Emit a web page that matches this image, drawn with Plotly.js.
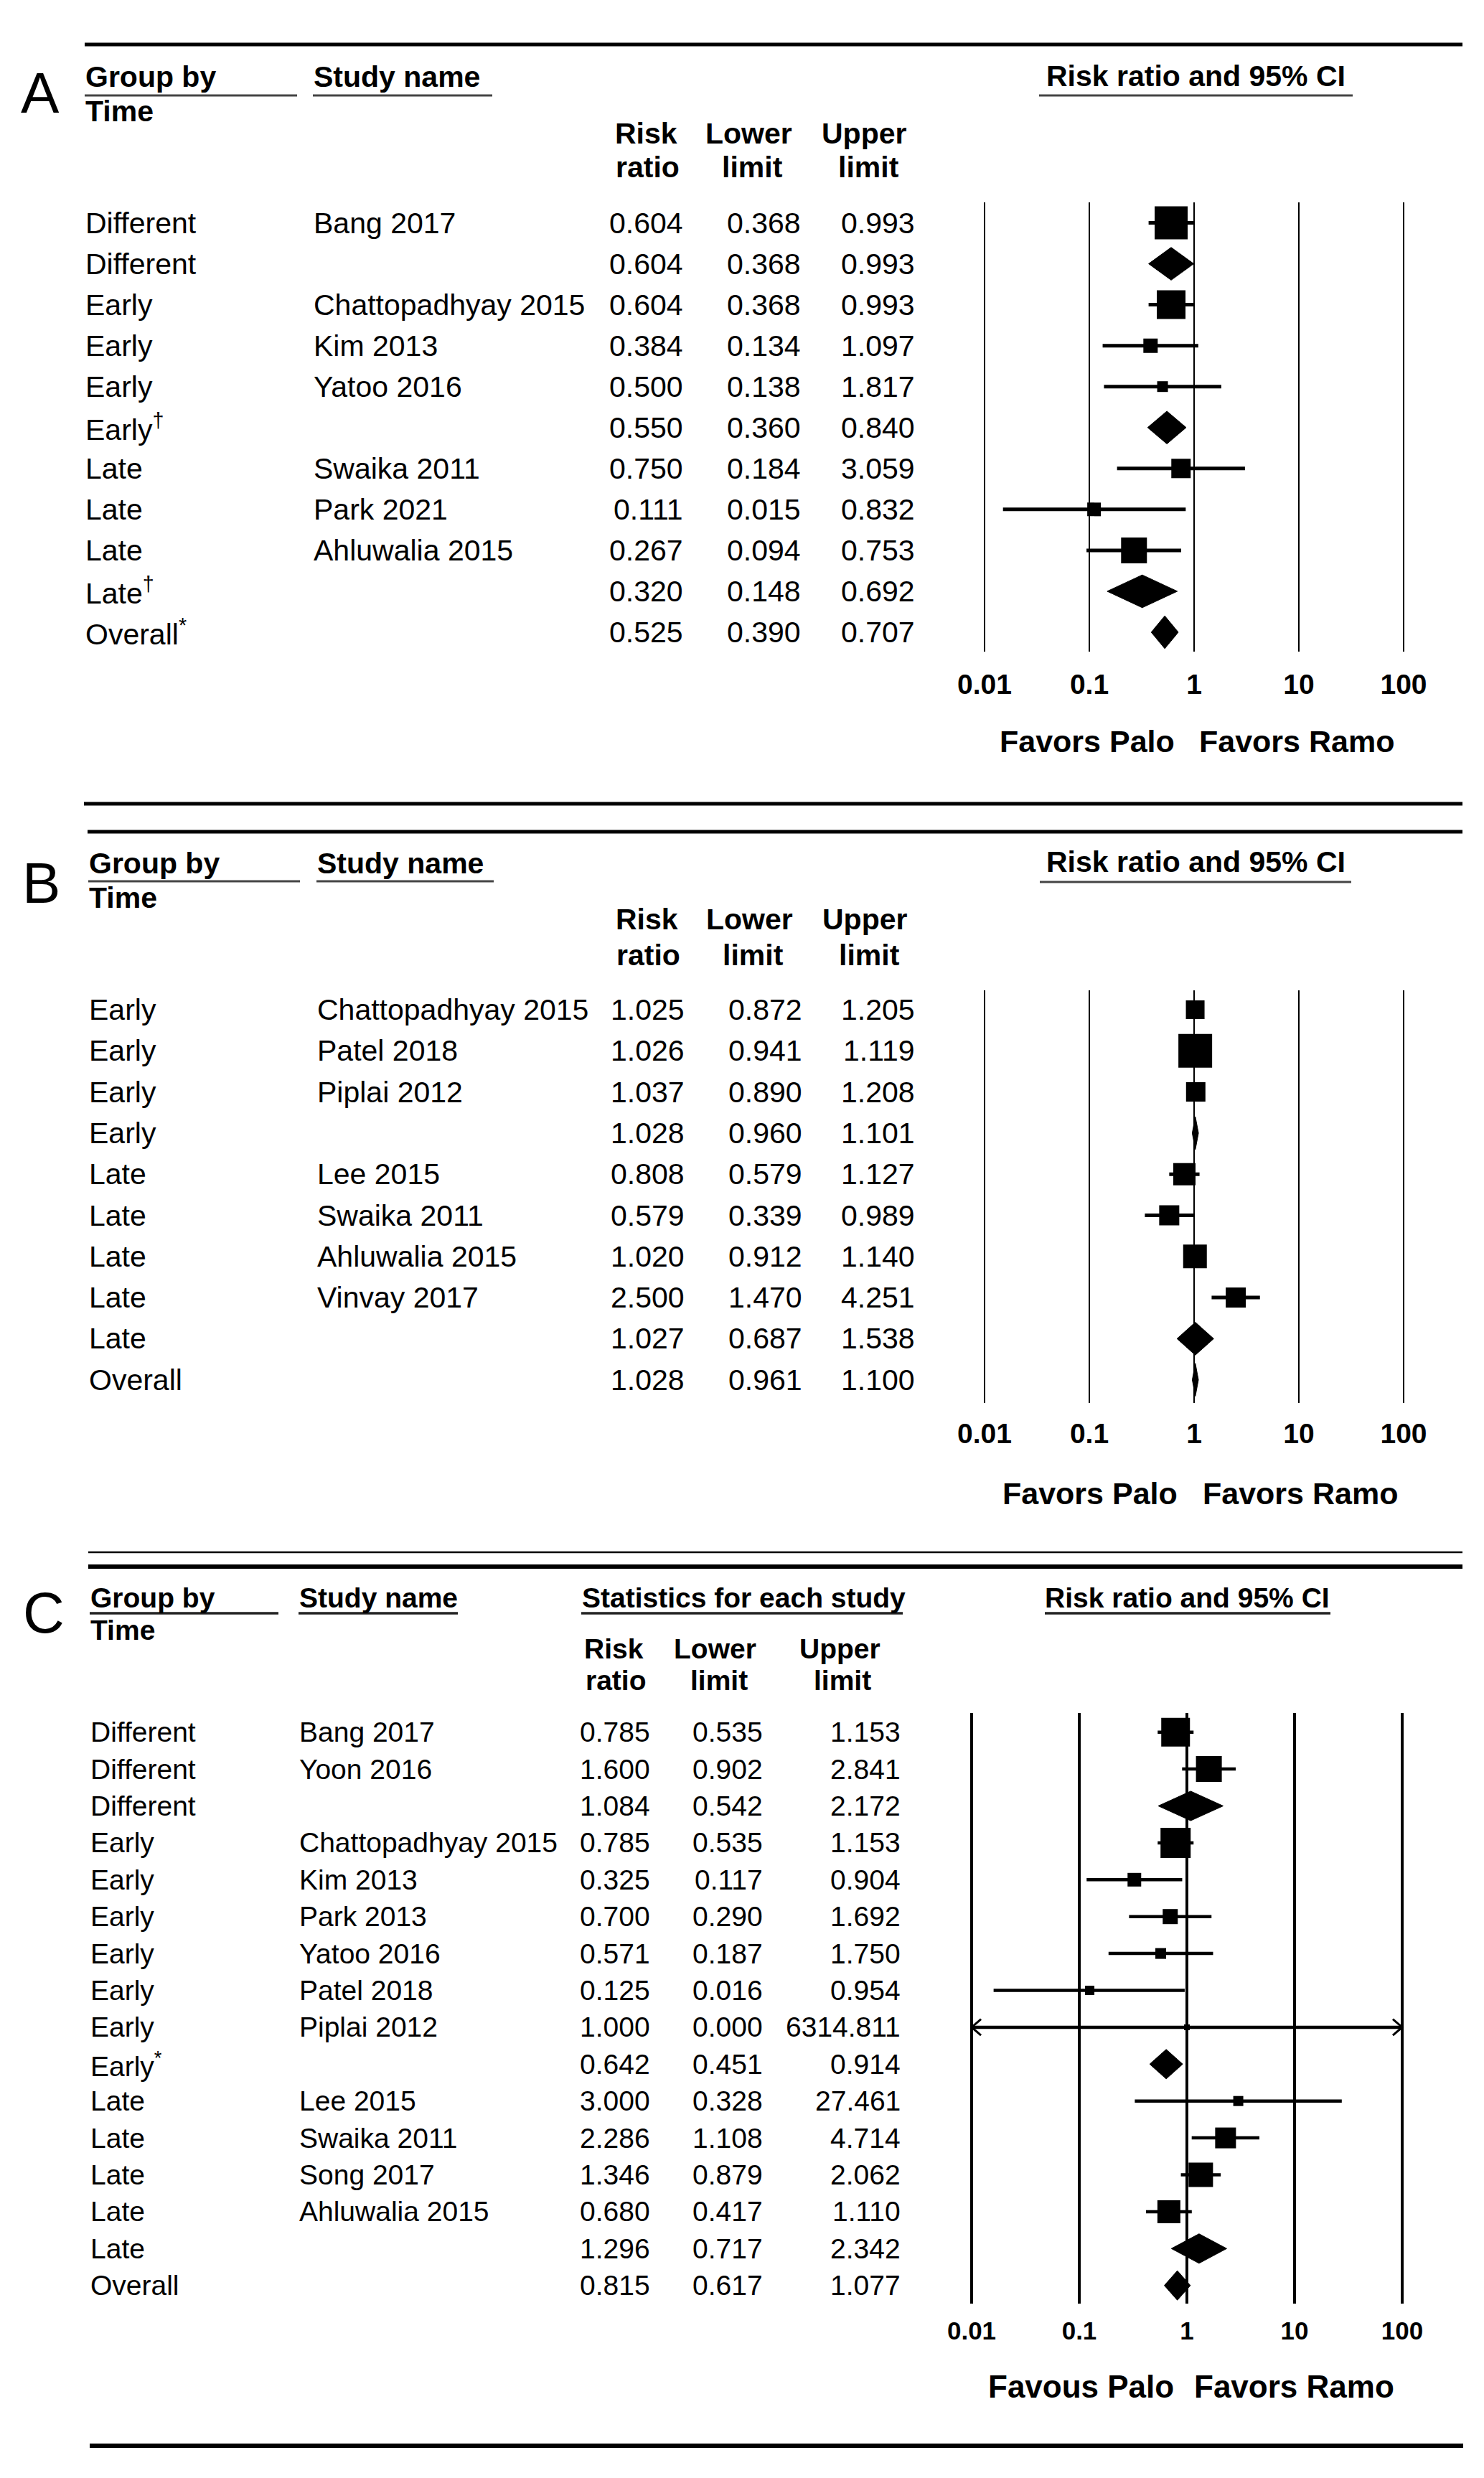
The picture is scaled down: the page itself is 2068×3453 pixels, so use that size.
<!DOCTYPE html>
<html><head><meta charset="utf-8">
<script src="https://cdn.plot.ly/plotly-3.0.1.min.js"></script>
<style>html,body{margin:0;padding:0;background:#fff;}#chart{width:2068px;height:3453px;}</style>
</head><body><div id="chart"></div>
<script>
// ---------------- Panel A data ----------------
const groupA = ['Different','Different','Early','Early','Early','Early<sup>†</sup>','Late','Late','Late','Late<sup>†</sup>','Overall<sup>*</sup>'];
const studyA = ['Bang 2017','','Chattopadhyay 2015','Kim 2013','Yatoo 2016','','Swaika 2011','Park 2021','Ahluwalia 2015','',''];
const rrA = [0.604,0.604,0.604,0.384,0.500,0.550,0.750,0.111,0.267,0.320,0.525];
const loA = [0.368,0.368,0.368,0.134,0.138,0.360,0.184,0.015,0.094,0.148,0.390];
const hiA = [0.993,0.993,0.993,1.097,1.817,0.840,3.059,0.832,0.753,0.692,0.707];
const kindA = ['study','summary','study','study','study','summary','study','study','study','summary','summary'];
const weightA = [46,null,40,20,15,null,27,19,36,null,null];

// ---------------- Panel B data ----------------
const groupB = ['Early','Early','Early','Early','Late','Late','Late','Late','Late','Overall'];
const studyB = ['Chattopadhyay 2015','Patel 2018','Piplai 2012','','Lee 2015','Swaika 2011','Ahluwalia 2015','Vinvay 2017','',''];
const rrB = [1.025,1.026,1.037,1.028,0.808,0.579,1.020,2.500,1.027,1.028];
const loB = [0.872,0.941,0.890,0.960,0.579,0.339,0.912,1.470,0.687,0.961];
const hiB = [1.205,1.119,1.208,1.101,1.127,0.989,1.140,4.251,1.538,1.100];
const kindB = ['study','study','study','summary','study','study','study','study','summary','summary'];
const weightB = [26,47,27,null,31,28,33,28,null,null];

// ---------------- Panel C data ----------------
const groupC = ['Different','Different','Different','Early','Early','Early','Early','Early','Early','Early<sup>*</sup>','Late','Late','Late','Late','Late','Overall'];
const studyC = ['Bang 2017','Yoon 2016','','Chattopadhyay 2015','Kim 2013','Park 2013','Yatoo 2016','Patel 2018','Piplai 2012','','Lee 2015','Swaika 2011','Song 2017','Ahluwalia 2015','',''];
const rrC = [0.785,1.600,1.084,0.785,0.325,0.700,0.571,0.125,1.000,0.642,3.000,2.286,1.346,0.680,1.296,0.815];
const loC = [0.535,0.902,0.542,0.535,0.117,0.290,0.187,0.016,0.000,0.451,0.328,1.108,0.879,0.417,0.717,0.617];
const hiC = [1.153,2.841,2.172,1.153,0.904,1.692,1.750,0.954,6314.811,0.914,27.461,4.714,2.062,1.110,2.342,1.077];
const kindC = ['study','study','summary','study','study','study','study','study','study','summary','study','study','study','study','summary','summary'];
const weightC = [40,36,null,42,19,21,15,13,8,null,14,29,34,32,null,null];

const tickVals = [0.01,0.1,1,10,100];
const tickText = ['0.01','0.1','1','10','100'];

// ---------------- layout helpers ----------------
const W = 2068, H = 3453;
const PX = p => p / W;
const PY = p => 1 - p / H;
const FONT = 'Liberation Sans, Arial, Helvetica, sans-serif';

const panels = [
  {letter:'A', group:groupA, study:studyA, rr:rrA, lo:loA, hi:hiA, kind:kindA, wt:weightA,
   xa:'x', ya:'y', top:282, bottom:908, row0:310.5, step:57.05, d0:1372, d4:1956,
   cGroup:118, cStudy:436, cRR:953, cLo:1117, cHi:1276, font:41, tickFont:39, grid:2.5, ticklen:11, whisk:5},
  {letter:'B', group:groupB, study:studyB, rr:rrB, lo:loB, hi:hiB, kind:kindB, wt:weightB,
   xa:'x2', ya:'y2', top:1380, bottom:1955, row0:1407, step:57.3, d0:1372, d4:1956,
   cGroup:123, cStudy:441, cRR:955, cLo:1119, cHi:1276, font:41, tickFont:39, grid:2.5, ticklen:8, whisk:5},
  {letter:'C', group:groupC, study:studyC, rr:rrC, lo:loC, hi:hiC, kind:kindC, wt:weightC,
   xa:'x3', ya:'y3', top:2387, bottom:3210, row0:2413.7, step:51.4, d0:1354, d4:1954,
   cGroup:125, cStudy:416, cRR:907, cLo:1064, cHi:1256, font:39, tickFont:35, grid:4, ticklen:7, whisk:4.5}
];

const traces = [];
const annotations = [];
const shapes = [];
const layout = {
  width: W, height: H, margin:{l:0,r:0,t:0,b:0},
  paper_bgcolor:'#fff', plot_bgcolor:'rgba(0,0,0,0)',
  showlegend:false, font:{family:FONT, color:'#000'},
  annotations, shapes
};

const PAD = 0.05;      // decades of padding beyond 0.01..100
const HALF = 0.4;      // diamond half height in rows
const XMIN = 0.01, XMAX = 100;

panels.forEach((p, pi) => {
  const dec = (p.d4 - p.d0) / 4;
  const xKey = pi === 0 ? 'xaxis' : 'xaxis' + (pi + 1);
  const yKey = pi === 0 ? 'yaxis' : 'yaxis' + (pi + 1);
  layout[xKey] = {
    type:'log', range:[-2 - PAD, 2 + PAD],
    domain:[PX(p.d0 - PAD * dec), PX(p.d4 + PAD * dec)],
    anchor:p.ya, tickmode:'array', tickvals:tickVals, ticktext:tickText,
    showgrid:true, gridcolor:'#000', gridwidth:p.grid, showline:false, zeroline:false,
    ticks:'outside', ticklen:p.ticklen, tickcolor:'rgba(0,0,0,0)',
    tickfont:{family:FONT, size:p.tickFont, color:'#000', weight:'bold'}, fixedrange:true
  };
  layout[yKey] = {
    domain:[PY(p.bottom), PY(p.top)],
    range:[(p.bottom - p.row0) / p.step, (p.top - p.row0) / p.step],
    anchor:p.xa, showgrid:false, zeroline:false, showticklabels:false, ticks:'', showline:false, fixedrange:true
  };

  // whiskers (clipped to axis) + arrowheads
  const wx = [], wy = [];
  const ax = [], ay = [];
  const aw = Math.pow(10, 0.087);
  p.rr.forEach((v, k) => {
    if (p.kind[k] !== 'study') return;
    const lo = Math.max(p.lo[k], XMIN), hi = Math.min(p.hi[k], XMAX);
    wx.push(lo, hi, null); wy.push(k, k, null);
    if (p.lo[k] < XMIN) { ax.push(XMIN * aw, XMIN, XMIN * aw, null); ay.push(k - 0.22, k, k + 0.22, null); }
    if (p.hi[k] > XMAX) { ax.push(XMAX / aw, XMAX, XMAX / aw, null); ay.push(k - 0.22, k, k + 0.22, null); }
  });
  traces.push({type:'scatter', mode:'lines', x:wx, y:wy, xaxis:p.xa, yaxis:p.ya,
    line:{color:'#000', width:p.whisk}, hoverinfo:'skip', connectgaps:false});
  if (ax.length) traces.push({type:'scatter', mode:'lines', x:ax, y:ay, xaxis:p.xa, yaxis:p.ya,
    line:{color:'#000', width:3}, hoverinfo:'skip', connectgaps:false});

  // study squares
  const sx = [], sy = [], ss = [];
  p.rr.forEach((v, k) => { if (p.kind[k] === 'study') { sx.push(v); sy.push(k); ss.push(p.wt[k]); } });
  traces.push({type:'scatter', mode:'markers', x:sx, y:sy, xaxis:p.xa, yaxis:p.ya,
    marker:{symbol:'square', size:ss, color:'#000', opacity:1, line:{width:0}}, hoverinfo:'skip'});

  // summary diamonds
  p.rr.forEach((v, k) => {
    if (p.kind[k] !== 'summary') return;
    traces.push({type:'scatter', mode:'lines', fill:'toself', fillcolor:'#000',
      x:[p.lo[k], v, p.hi[k], v, p.lo[k]], y:[k, k - HALF, k, k + HALF, k],
      xaxis:p.xa, yaxis:p.ya, line:{color:'#000', width:1}, hoverinfo:'skip'});
  });

  // table cells
  const cell = (txt, xpx, k, anchor) => annotations.push({
    text:txt, x:PX(xpx), y:k, xref:'paper', yref:p.ya, xanchor:anchor, yanchor:'middle',
    showarrow:false, font:{family:FONT, size:p.font, color:'#000'}, borderpad:0
  });
  p.rr.forEach((v, k) => {
    cell(p.group[k], p.cGroup, k, 'left');
    if (p.study[k]) cell(p.study[k], p.cStudy, k, 'left');
    cell(v.toFixed(3), p.cRR, k, 'right');
    cell(p.lo[k].toFixed(3), p.cLo, k, 'right');
    cell(p.hi[k].toFixed(3), p.cHi, k, 'right');
  });
});

// ---------------- headers, rules, labels ----------------
const label = (txt, xpx, ypx, anchor, size, bold) => annotations.push({
  text: bold ? '<b>' + txt + '</b>' : txt, x:PX(xpx), y:PY(ypx), xref:'paper', yref:'paper',
  xanchor:anchor, yanchor:'middle', showarrow:false, font:{family:FONT, size:size, color:'#000'}, borderpad:0
});
const hline = (x0, x1, ypx, w, c) => shapes.push({type:'line', xref:'paper', yref:'paper',
  x0:PX(x0), x1:PX(x1), y0:PY(ypx), y1:PY(ypx), line:{color:c || '#000', width:w}});

// rules
hline(118, 2038, 62, 5);
hline(117, 2038, 1120, 5);
hline(122, 2038, 1159, 5);
hline(123, 2038, 2163, 2.5);
hline(123, 2038, 2183, 6);
hline(125, 2039, 3408, 6);

// Panel A header
label('A', 56, 129, 'center', 80, false);
label('Group by', 118, 107, 'left', 41, true);
label('Time', 118, 155, 'left', 41, true);
label('Study name', 436, 107, 'left', 41, true);
label('Risk ratio and 95% CI', 1666, 106, 'center', 41, true);
hline(118, 414, 133, 3, '#444'); hline(436, 686, 133, 3, '#444'); hline(1448, 1885, 133, 3, '#444');
label('Risk', 900, 186, 'center', 41, true); label('ratio', 902, 233, 'center', 41, true);
label('Lower', 1043, 186, 'center', 41, true); label('limit', 1048, 233, 'center', 41, true);
label('Upper', 1204, 186, 'center', 41, true); label('limit', 1210, 233, 'center', 41, true);
label('Favors Palo', 1638, 1033, 'right', 43, true);
label('Favors Ramo', 1670, 1033, 'left', 43, true);

// Panel B header
label('B', 57, 1230, 'center', 80, false);
label('Group by', 123, 1203, 'left', 41, true);
label('Time', 123, 1251, 'left', 41, true);
label('Study name', 441, 1203, 'left', 41, true);
label('Risk ratio and 95% CI', 1666, 1201, 'center', 41, true);
hline(123, 418, 1228, 3, '#444'); hline(441, 688, 1228, 3, '#444'); hline(1449, 1883, 1229, 3, '#444');
label('Risk', 901, 1281, 'center', 41, true); label('ratio', 903, 1331, 'center', 41, true);
label('Lower', 1044, 1281, 'center', 41, true); label('limit', 1049, 1331, 'center', 41, true);
label('Upper', 1205, 1281, 'center', 41, true); label('limit', 1211, 1331, 'center', 41, true);
label('Favors Palo', 1642, 2081, 'right', 43, true);
label('Favors Ramo', 1675, 2081, 'left', 43, true);

// Panel C header
label('C', 61, 2247, 'center', 80, false);
label('Group by', 125, 2226, 'left', 39, true);
label('Time', 125, 2271, 'left', 39, true);
label('Study name', 416, 2226, 'left', 39, true);
label('Statistics for each study', 810, 2226, 'left', 39, true);
label('Risk ratio and 95% CI', 1654, 2226, 'center', 39, true);
hline(125, 388, 2248, 3.5, '#222'); hline(416, 638, 2248, 3.5, '#222');
hline(810, 1258, 2248, 3.5, '#222'); hline(1456, 1854, 2248, 3.5, '#222');
label('Risk', 855, 2297, 'center', 39, true); label('ratio', 858, 2341, 'center', 39, true);
label('Lower', 996, 2297, 'center', 39, true); label('limit', 1002, 2341, 'center', 39, true);
label('Upper', 1170, 2297, 'center', 39, true); label('limit', 1174, 2341, 'center', 39, true);
label('Favous Palo', 1637, 3325, 'right', 44, true);
label('Favors Ramo', 1663, 3325, 'left', 44, true);

Plotly.newPlot('chart', traces, layout, {staticPlot:true, displayModeBar:false});
</script>
</body></html>
